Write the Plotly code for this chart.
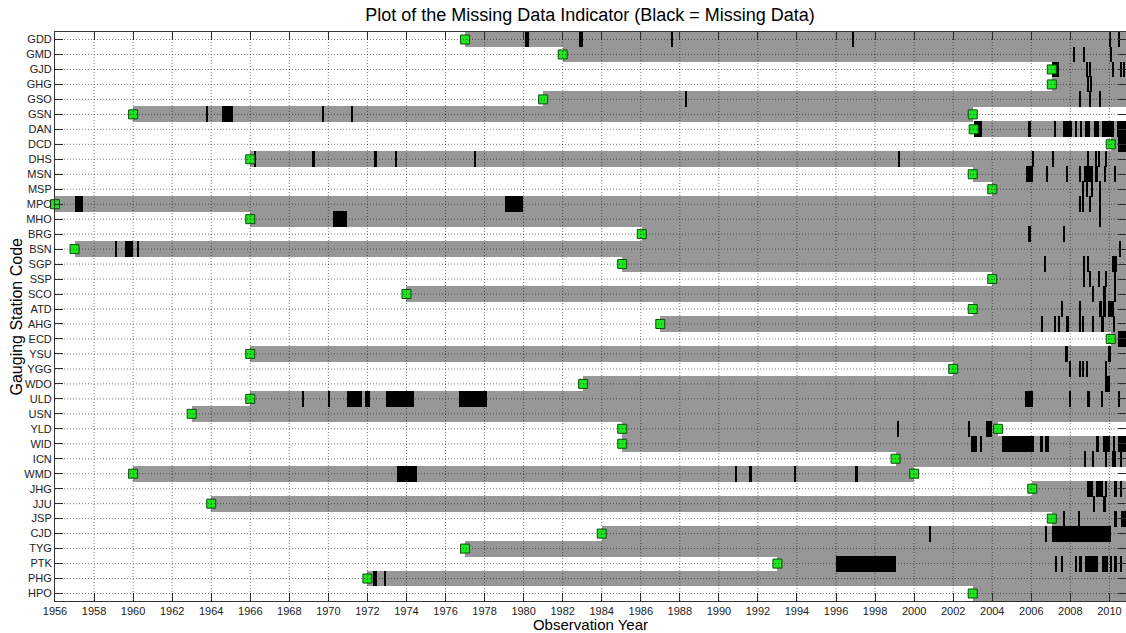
import plotly.graph_objects as go

# Gauging stations, top to bottom
stations = ["GDD", "GMD", "GJD", "GHG", "GSO", "GSN", "DAN", "DCD", "DHS", "MSN",
            "MSP", "MPO", "MHO", "BRG", "BSN", "SGP", "SSP", "SCO", "ATD", "AHG",
            "ECD", "YSU", "YGG", "WDO", "ULD", "USN", "YLD", "WID", "ICN", "WMD",
            "JHG", "JJU", "JSP", "CJD", "TYG", "PTK", "PHG", "HPO"]

# First year of record for each station
record_start = [1977.0, 1982.0, 2007.05, 2007.05, 1981.0, 1960.0, 2003.05, 2010.07, 1966.0, 2003.0,
                2004.0, 1956.0, 1966.0, 1986.05, 1957.0, 1985.05, 2004.0, 1974.0, 2003.0, 1987.0,
                2010.07, 1966.0, 2002.0, 1983.05, 1966.0, 1963.0, 1985.05, 1985.05, 1999.05, 1960.0,
                2006.05, 1964.0, 2007.05, 1984.0, 1977.0, 1993.0, 1972.0, 2003.0]

# Stations whose record stops before the end of the period
last_year = 2010.85
record_end = {"GSN": 2003.0, "YLD": 2004.3, "WMD": 2000.0}

# Additional markers (record change points)
extra_markers = {"GSN": [2003.0], "YLD": [2004.3], "WMD": [2000.0]}

# Periods of missing data (start year, end year)
missing = {
    "GDD": [(1980.05, 1980.25), (1982.85, 1983.05), (1987.58, 1987.66), (1996.86, 1996.94),
            (2010.0, 2010.06), (2010.45, 2010.55)],
    "GMD": [(2008.16, 2008.24), (2008.66, 2008.74), (2010.06, 2010.14)],
    "GJD": [(2007.05, 2007.4), (2008.82, 2008.9), (2008.98, 2009.06), (2010.16, 2010.24),
            (2010.55, 2010.62), (2010.7, 2010.78)],
    "GHG": [(2008.86, 2008.94), (2009.02, 2009.1)],
    "GSO": [(1988.28, 1988.34), (2008.46, 2008.54), (2008.98, 2009.06), (2009.48, 2009.56)],
    "GSN": [(1963.78, 1963.86), (1964.55, 1965.1), (1969.68, 1969.74), (1971.18, 1971.24)],
    "DAN": [(2003.05, 2003.5), (2005.88, 2005.96), (2007.18, 2007.26), (2007.6, 2008.1),
            (2008.25, 2008.33), (2008.5, 2008.58), (2008.75, 2009.0), (2009.2, 2009.45),
            (2009.6, 2010.25), (2010.4, 2010.85)],
    "DCD": [(2010.45, 2010.85)],
    "DHS": [(1966.2, 1966.3), (1969.15, 1969.3), (1972.35, 1972.5), (1973.45, 1973.52),
            (1977.5, 1977.56), (1999.18, 1999.26), (2006.08, 2006.16), (2007.08, 2007.14),
            (2008.9, 2008.98), (2009.3, 2009.38), (2009.45, 2009.52), (2009.8, 2009.88)],
    "MSN": [(2005.75, 2006.08), (2006.78, 2006.84), (2007.78, 2007.84), (2008.45, 2008.55),
            (2008.7, 2009.15), (2009.3, 2009.4), (2009.7, 2009.85), (2010.25, 2010.35)],
    "MSP": [(2008.6, 2008.68), (2008.85, 2008.92), (2009.1, 2009.18), (2009.48, 2009.56)],
    "MPO": [(1957.0, 1957.45), (1979.05, 1979.95), (2008.45, 2008.52), (2008.62, 2008.7),
            (2008.98, 2009.06), (2009.48, 2009.56)],
    "MHO": [(1970.25, 1970.95), (2009.48, 2009.56)],
    "BRG": [(2005.88, 2005.96), (2007.66, 2007.74)],
    "BSN": [(1959.05, 1959.2), (1959.6, 1960.0), (1960.22, 1960.3), (2010.5, 2010.58)],
    "SGP": [(2006.66, 2006.74), (2008.66, 2008.74), (2008.9, 2008.98), (2010.15, 2010.4)],
    "SSP": [(2008.66, 2008.74), (2008.96, 2009.04), (2009.46, 2009.54), (2009.8, 2009.86),
            (2010.25, 2010.35)],
    "SCO": [(2009.12, 2009.2), (2009.72, 2009.8), (2010.26, 2010.34)],
    "ATD": [(2007.56, 2007.64), (2008.46, 2008.54), (2009.45, 2009.6), (2009.72, 2009.82),
            (2009.95, 2010.25)],
    "AHG": [(2006.52, 2006.6), (2007.2, 2007.28), (2007.38, 2007.46), (2007.78, 2007.92),
            (2008.46, 2008.54), (2008.62, 2008.7), (2009.12, 2009.2), (2009.62, 2009.7),
            (2010.22, 2010.3)],
    "ECD": [(2010.45, 2010.85)],
    "YSU": [(2007.75, 2007.88), (2009.95, 2010.08)],
    "YGG": [(2007.96, 2008.04), (2008.46, 2008.54), (2008.62, 2008.7), (2008.82, 2008.9),
            (2009.82, 2009.9)],
    "WDO": [(2009.78, 2010.05)],
    "ULD": [(1968.68, 1968.76), (1970.02, 1970.08), (1970.95, 1971.7), (1971.9, 1972.15),
            (1972.95, 1974.4), (1976.7, 1978.1), (2005.7, 2006.1), (2007.98, 2008.04),
            (2008.85, 2009.02), (2009.58, 2009.64), (2010.46, 2010.54)],
    "YLD": [(1999.16, 1999.24), (2002.76, 2002.84), (2003.68, 2004.0)],
    "WID": [(2002.9, 2003.2), (2003.38, 2003.45), (2004.5, 2006.15), (2006.45, 2006.6),
            (2006.7, 2006.9), (2009.3, 2009.45), (2009.65, 2010.05), (2010.2, 2010.3),
            (2010.45, 2010.85)],
    "ICN": [(2008.7, 2008.78), (2009.12, 2009.2), (2009.82, 2009.9), (2010.15, 2010.35),
            (2010.55, 2010.62)],
    "WMD": [(1973.5, 1974.55), (1990.87, 1990.93), (1991.55, 1991.7), (1993.88, 1993.94),
            (1997.02, 1997.1)],
    "JHG": [(2008.85, 2009.15), (2009.3, 2009.65), (2009.75, 2009.9), (2010.25, 2010.38),
            (2010.55, 2010.62)],
    "JJU": [(2009.2, 2009.28), (2009.72, 2009.8)],
    "JSP": [(2007.66, 2007.72), (2008.42, 2008.48), (2010.26, 2010.4), (2010.58, 2010.85)],
    "CJD": [(2000.77, 2000.83), (2006.72, 2006.78), (2007.05, 2010.07)],
    "PTK": [(1996.0, 1999.05), (2007.22, 2007.3), (2007.56, 2007.64), (2008.28, 2008.34),
            (2008.46, 2008.62), (2008.75, 2009.4), (2009.6, 2009.95), (2010.05, 2010.12),
            (2010.25, 2010.4), (2010.55, 2010.62)],
    "PHG": [(1972.3, 1972.5), (1972.86, 1972.92)],
}

x_ticks = list(range(1956, 2011, 2))
row_of = {name: i + 1 for i, name in enumerate(stations)}

GRAY = "#979797"
GRID = dict(color="rgba(0,0,0,0.5)", width=1, dash="1px,2px")
FONT = "Liberation Sans, Arial, sans-serif"
fig = go.Figure()

# Periods with observations (gray)
gray_y, gray_base, gray_len = [], [], []
for name, start in zip(stations, record_start):
    end = record_end.get(name, last_year)
    gray_y.append(row_of[name])
    gray_base.append(start)
    gray_len.append(end - start)
fig.add_trace(go.Bar(orientation="h", y=gray_y, x=gray_len, base=gray_base,
                     width=1.06, marker=dict(color=GRAY, line=dict(width=0)),
                     hoverinfo="skip", showlegend=False))

# Missing data periods (black)
blk_y, blk_base, blk_len = [], [], []
for name, spans in missing.items():
    for a, b in spans:
        blk_y.append(row_of[name])
        blk_base.append(a)
        blk_len.append(b - a)
fig.add_trace(go.Bar(orientation="h", y=blk_y, x=blk_len, base=blk_base,
                     width=1.06, marker=dict(color="black", line=dict(width=0)),
                     hoverinfo="skip", showlegend=False))

# Dotted grid drawn over the bars
grid_shapes = []
for xv in x_ticks[1:]:
    grid_shapes.append(dict(type="line", xref="x", yref="paper", x0=xv, x1=xv, y0=0, y1=1,
                            line=GRID, layer="above"))
for r in range(1, len(stations) + 1):
    grid_shapes.append(dict(type="line", xref="paper", yref="y", x0=0, x1=1, y0=r, y1=r,
                            line=GRID, layer="above"))

# Start-of-record markers
mk_x, mk_y = [], []
for name, start in zip(stations, record_start):
    mk_x.append(start)
    mk_y.append(row_of[name])
    for extra in extra_markers.get(name, []):
        mk_x.append(extra)
        mk_y.append(row_of[name])
fig.add_trace(go.Scatter(x=mk_x, y=mk_y, mode="markers", cliponaxis=False,
                         marker=dict(symbol="square", size=9, color="#1ee61e",
                                     line=dict(color="#0d4d0d", width=1)),
                         hoverinfo="skip", showlegend=False))

axis_font = dict(family=FONT, size=11, color="#222222")
fig.update_layout(
    width=1126, height=633,
    margin=dict(l=55, r=0, t=32, b=32),
    paper_bgcolor="white", plot_bgcolor="white",
    bargap=0, barmode="overlay",
    shapes=grid_shapes,
    title=dict(text="Plot of the Missing Data Indicator (Black = Missing Data)",
               x=0.524, xanchor="center", y=0.976, yanchor="middle",
               font=dict(family=FONT, size=18, color="black")),
    annotations=[dict(text="Gauging Station Code", textangle=-90, xref="paper", yref="paper",
                      x=0, y=0.5, xanchor="center", yanchor="middle", xshift=-39,
                      showarrow=False, font=dict(family=FONT, size=16, color="black"))],
    xaxis=dict(range=[1956, 2010.85], tickmode="array", tickvals=x_ticks,
               ticktext=[str(v) for v in x_ticks], showgrid=False, zeroline=False,
               showline=True, linecolor="#333333", linewidth=1, mirror="allticks",
               ticks="inside", ticklen=8, tickcolor="#333333", layer="above traces",
               tickfont=axis_font,
               title=dict(text="Observation Year", standoff=4,
                          font=dict(family=FONT, size=15, color="black"))),
    yaxis=dict(range=[38.5, 0.5], tickmode="array", tickvals=list(range(1, len(stations) + 1)),
               ticktext=stations, showgrid=False, zeroline=False,
               showline=True, linecolor="#333333", linewidth=1, mirror="allticks",
               ticks="inside", ticklen=8, tickcolor="#333333", layer="above traces",
               tickfont=axis_font),
)

fig.write_html("out.html")
